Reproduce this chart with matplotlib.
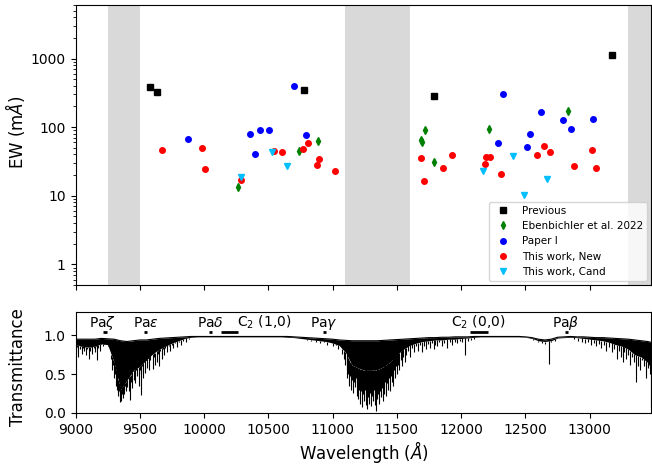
import numpy as np
import matplotlib
matplotlib.use("Agg")
import matplotlib.pyplot as plt
from matplotlib.ticker import FixedLocator, FuncFormatter

# ---- EW data (wavelength in A, EW in mA)
prev_wave = [9578, 9632, 10780, 11792, 13170]
prev_ew = [379, 327, 346, 286, 1143]

eben_wave = [10266, 10738, 10888, 11690, 11695, 11717, 11788, 12217, 12831]
eben_ew = [13.6, 45.4, 62.8, 66, 60, 90.8, 30.8, 93, 171]

paper1_wave = [9878, 10360, 10394, 10438, 10503, 10697, 10795,
               12288, 12329, 12514, 12532, 12617, 12794, 12856, 13022]
paper1_ew = [67, 78.6, 40.6, 90.8, 90.8, 400, 76.8,
             58.2, 306, 51.4, 79.4, 166, 127, 93.8, 130]

new_wave = [9676, 9984, 10005, 10287, 10541, 10609, 10769, 10811, 10875, 10893, 11018,
            11689, 11707, 11862, 11927, 12188, 12196, 12227, 12310, 12590, 12646,
            12688, 12874, 13017, 13045]
new_ew = [46.9, 50.2, 24.6, 16.9, 45.4, 43.9, 48, 58.7, 28.1, 34, 23.2,
          35.9, 16.3, 25.7, 39.7, 29.4, 36.4, 36.4, 21, 39.7, 52.6,
          43.9, 27.2, 46.5, 25.7]

cand_wave = [10284, 10531, 10648, 12172, 12406, 12487, 12668]
cand_ew = [18.6, 43, 27.5, 23, 38.4, 10.3, 17.8]

# regions masked by telluric bands
bad_regions = [(9250, 9500), (11100, 11600), (13300, 13600)]

# ---- telluric transmittance (coarse envelope + strong lines)
tell_wave = np.arange(9000, 13501, 50)
tell_top = [0.95, 0.95, 0.95, 0.95, 0.96, 0.955, 0.95, 0.93, 0.92, 0.93,   # 9000-9450
            0.94, 0.94, 0.95, 0.96, 0.965, 0.97, 0.975, 0.98, 0.985, 0.985,  # 9500-9950
            0.985, 0.985, 0.985, 0.985, 0.985, 0.985, 0.985, 0.985, 0.985, 0.985,  # 10000-10450
            0.985, 0.985, 0.985, 0.985, 0.98, 0.975, 0.97, 0.965, 0.96, 0.955,  # 10500-10950
            0.95, 0.94, 0.935, 0.93, 0.93, 0.93, 0.93, 0.93, 0.935, 0.94,  # 11000-11450
            0.945, 0.95, 0.955, 0.96, 0.965, 0.97, 0.97, 0.975, 0.975, 0.98,  # 11500-11950
            0.98, 0.98, 0.985, 0.985, 0.985, 0.985, 0.985, 0.985, 0.985, 0.985,  # 12000-12450
            0.98, 0.97, 0.95, 0.94, 0.95, 0.975, 0.98, 0.985, 0.98, 0.98,  # 12500-12950
            0.975, 0.97, 0.97, 0.965, 0.96, 0.955, 0.95, 0.94, 0.93, 0.92,  # 13000-13450
            0.90]
tell_band = [0.88, 0.86, 0.85, 0.86, 0.89, 0.88, 0.65, 0.30, 0.42, 0.55,
             0.60, 0.68, 0.76, 0.82, 0.86, 0.90, 0.93, 0.96, 0.975, 0.98,
             0.98, 0.98, 0.98, 0.98, 0.98, 0.98, 0.98, 0.98, 0.98, 0.98,
             0.98, 0.98, 0.98, 0.975, 0.97, 0.96, 0.95, 0.94, 0.93, 0.92,
             0.90, 0.87, 0.78, 0.62, 0.58, 0.55, 0.55, 0.56, 0.60, 0.66,
             0.75, 0.82, 0.87, 0.90, 0.92, 0.93, 0.94, 0.94, 0.95, 0.95,
             0.96, 0.965, 0.975, 0.98, 0.98, 0.98, 0.98, 0.98, 0.98, 0.98,
             0.975, 0.96, 0.93, 0.92, 0.93, 0.965, 0.97, 0.975, 0.97, 0.96,
             0.95, 0.94, 0.93, 0.91, 0.88, 0.86, 0.82, 0.75, 0.72, 0.65,
             0.50]

line_wave = [9005, 9015, 9022, 9032, 9040, 9048, 9057, 9065, 9074, 9082, 9090, 9098,
             9106, 9115, 9124, 9132, 9140, 9150, 9158, 9166, 9175, 9184, 9193, 9202,
             9212, 9225, 9240, 9255, 9268, 9278,
             9285, 9292, 9300, 9307, 9313, 9320, 9326, 9332, 9338, 9344, 9350, 9356,
             9362, 9368, 9374, 9380, 9386, 9392, 9398, 9404, 9410, 9416, 9422, 9428,
             9434, 9440, 9447, 9453, 9460, 9466, 9473, 9480, 9487, 9494, 9500, 9506,
             9513, 9520, 9527,
             9535, 9543, 9551, 9559, 9567, 9575, 9583, 9591, 9599, 9607, 9615, 9624,
             9632, 9641, 9650, 9660, 9670, 9680, 9690, 9700,
             9712, 9725, 9738, 9750, 9762, 9775, 9790, 9805, 9820, 9840, 9860, 9880,
             10720, 10760, 10800, 10830, 10870, 10905, 10935, 10960, 10985, 11005,
             11025, 11045, 11060, 11075, 11090, 11100,
             11108, 11115, 11122, 11130, 11137, 11144, 11151, 11158, 11165, 11172,
             11179, 11186, 11193, 11200, 11207, 11214, 11221, 11228, 11235, 11242,
             11249, 11256, 11263, 11270, 11277, 11284, 11291, 11298, 11305, 11312,
             11319, 11326, 11333, 11340, 11347, 11354, 11361, 11368, 11375, 11382,
             11389, 11396, 11403, 11410, 11417, 11424, 11431, 11438, 11445, 11452,
             11459, 11466, 11473, 11480, 11488, 11496, 11504, 11512, 11520, 11530,
             11540, 11550, 11560, 11572,
             11590, 11605, 11620, 11635, 11650, 11665, 11680, 11695, 11710, 11725,
             11740, 11755, 11770, 11785, 11800, 11815, 11830, 11850, 11870, 11890,
             11910, 11930, 11950, 11970, 11990, 12010, 12030, 12050, 12075, 12100,
             12560, 12600, 12630, 12650, 12685, 12700, 12730,
             12880, 12910, 12940, 12965, 12990, 13010, 13030, 13050, 13070, 13090,
             13110, 13130, 13150, 13170, 13190, 13210, 13225, 13240, 13255, 13270,
             13285, 13300, 13315, 13330, 13345, 13360, 13375, 13390, 13405, 13420,
             13435, 13450, 13465, 13478]
line_min = [0.78, 0.85, 0.72, 0.82, 0.88, 0.76, 0.84, 0.80, 0.86, 0.74, 0.82, 0.88,
            0.70, 0.80, 0.86, 0.76, 0.84, 0.79, 0.88, 0.68, 0.83, 0.87, 0.80, 0.90,
            0.86, 0.91, 0.90, 0.88, 0.80, 0.70,
            0.55, 0.62, 0.45, 0.50, 0.35, 0.30, 0.40, 0.22, 0.28, 0.14, 0.20, 0.16,
            0.25, 0.19, 0.30, 0.24, 0.35, 0.28, 0.40, 0.33, 0.45, 0.28, 0.17, 0.40,
            0.50, 0.32, 0.55, 0.42, 0.60, 0.38, 0.55, 0.48, 0.62, 0.35, 0.55, 0.23,
            0.50, 0.60, 0.45,
            0.65, 0.52, 0.70, 0.58, 0.72, 0.55, 0.68, 0.75, 0.57, 0.72, 0.62, 0.78,
            0.65, 0.76, 0.60, 0.80, 0.70, 0.82, 0.74, 0.84,
            0.78, 0.86, 0.80, 0.88, 0.83, 0.90, 0.85, 0.92, 0.88, 0.93, 0.92, 0.95,
            0.96, 0.95, 0.94, 0.93, 0.91, 0.90, 0.92, 0.88, 0.90, 0.86,
            0.88, 0.82, 0.85, 0.76, 0.70, 0.62,
            0.55, 0.45, 0.50, 0.35, 0.48, 0.30, 0.42, 0.26, 0.40, 0.33,
            0.45, 0.22, 0.38, 0.18, 0.30, 0.12, 0.28, 0.08, 0.25, 0.15,
            0.30, 0.10, 0.22, 0.05, 0.20, 0.12, 0.26, 0.09, 0.22, 0.15,
            0.30, 0.10, 0.20, 0.02, 0.18, 0.25, 0.12, 0.28, 0.20, 0.32,
            0.15, 0.35, 0.25, 0.40, 0.22, 0.38, 0.30, 0.45, 0.28, 0.48,
            0.40, 0.52, 0.35, 0.55, 0.45, 0.60, 0.50, 0.62, 0.55, 0.68,
            0.60, 0.72, 0.66, 0.75,
            0.80, 0.72, 0.84, 0.78, 0.86, 0.80, 0.88, 0.78, 0.86, 0.82,
            0.89, 0.84, 0.90, 0.82, 0.88, 0.86, 0.91, 0.86, 0.90, 0.84,
            0.92, 0.88, 0.92, 0.90, 0.93, 0.91, 0.74, 0.93, 0.94, 0.95,
            0.94, 0.92, 0.90, 0.89, 0.63, 0.91, 0.93,
            0.95, 0.93, 0.92, 0.90, 0.92, 0.88, 0.90, 0.86, 0.89, 0.84,
            0.87, 0.80, 0.85, 0.78, 0.82, 0.70, 0.80, 0.72, 0.65, 0.78,
            0.70, 0.75, 0.62, 0.72, 0.66, 0.40, 0.60, 0.55, 0.68, 0.60,
            0.45, 0.58, 0.50, 0.08]

# spectral features marked in the lower panel
feat_labels = [r"Pa$\zeta$", r"Pa$\epsilon$", r"Pa$\delta$", r"C$_2$ (1,0)", r"Pa$\gamma$",
               r"C$_2$ (0,0)", r"Pa$\beta$"]
feat_text_x = [9212, 9547, 10049, 10470, 10932, 12134, 12815]
feat_start = [9215, 9532, 10035, 10130, 10925, 12065, 12805]
feat_end = [9243, 9560, 10063, 10262, 10952, 12210, 12831]

mpl = matplotlib
mpl.rcParams['xtick.labelsize'] = 10
mpl.rcParams['ytick.labelsize'] = 10
mpl.rcParams['axes.labelsize'] = 12

fig = plt.figure(figsize=(6.52, 4.65), dpi=100)
ax = fig.add_axes([0.1158, 0.387, 0.8834, 0.602])
ax2 = fig.add_axes([0.1158, 0.112, 0.8834, 0.217], sharex=ax)

# --- top panel
for lo, hi in bad_regions:
    ax.axvspan(lo, hi, color="0.85", lw=0, zorder=0)

ax.plot(prev_wave, prev_ew, "s", color="k", ms=4, ls="none", label="Previous")
ax.plot(eben_wave, eben_ew, "d", color="g", ms=4, ls="none", label="Ebenbichler et al. 2022")
ax.plot(paper1_wave, paper1_ew, "o", color="b", ms=4, ls="none", label="Paper I")
ax.plot(new_wave, new_ew, "o", color="r", ms=4, ls="none", label="This work, New")
ax.plot(cand_wave, cand_ew, "v", color="deepskyblue", ms=4, ls="none", label="This work, Cand")

ax.set_yscale("log")
ax.set_ylim(0.5, 6000)
ax.yaxis.set_major_locator(FixedLocator([1, 10, 100, 1000]))
ax.yaxis.set_major_formatter(FuncFormatter(lambda y, pos: f"{int(y)}"))
ax.set_ylabel(r"EW (m$\AA$)")
ax.tick_params(axis="x", labelbottom=False)
ax.legend(loc="lower right", fontsize=7.5, borderaxespad=0.4)

# --- bottom panel: telluric transmission
ax2.fill_between(tell_wave, tell_band, tell_top, color="k", lw=0)
ax2.plot(tell_wave, tell_top, color="k", lw=0.8)
line_top = np.interp(line_wave, tell_wave, tell_band)
ax2.vlines(line_wave, line_min, line_top, color="k", lw=0.8)

for lab, tx, s, e in zip(feat_labels, feat_text_x, feat_start, feat_end):
    ax2.hlines(1.04, s, e, color="k", lw=2)
    ax2.text(tx, 1.11, lab, ha="center", va="baseline", fontsize=10)

ax2.set_ylim(0, 1.3)
ax2.set_xlim(9000, 13480)
ax2.set_yticks([0.0, 0.5, 1.0])
ax2.set_xticks([9000, 9500, 10000, 10500, 11000, 11500, 12000, 12500, 13000])
ax2.set_ylabel("Transmittance")
ax2.set_xlabel(r"Wavelength ($\AA$)", labelpad=1.5)
ax2.yaxis.set_label_coords(-0.085, 0.45)
ax.yaxis.set_label_coords(-0.085, 0.545)

fig.savefig("out.png", dpi=100)
